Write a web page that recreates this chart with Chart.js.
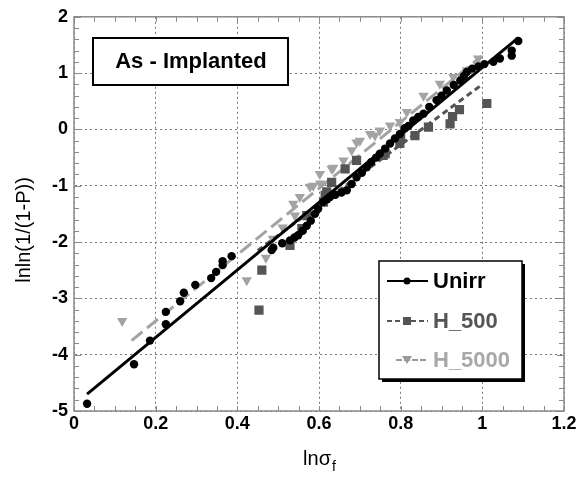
<!DOCTYPE html>
<html>
<head>
<meta charset="utf-8">
<script src="https://cdn.jsdelivr.net/npm/chart.js@4.4.1/dist/chart.umd.min.js"></script>
<style>
html,body{margin:0;padding:0;background:#fff;}
#wrap{position:relative;width:580px;height:478px;}
</style>
</head>
<body>
<div id="wrap"><canvas id="c" width="580" height="478"></canvas></div>
<script>
// ---- data ----
const unirrX = [0.032,0.147,0.186,0.225,0.225,0.260,0.269,0.297,0.336,0.348,0.364,0.364,0.386,0.484,0.488,0.510,0.529,0.540,0.549,0.560,0.570,0.580,0.590,0.598,0.610,0.620,0.627,0.640,0.655,0.668,0.680,0.692,0.705,0.717,0.728,0.740,0.749,0.762,0.774,0.786,0.798,0.810,0.819,0.831,0.843,0.856,0.870,0.888,0.900,0.913,0.930,0.946,0.955,0.962,0.975,0.990,1.005,1.027,1.043,1.072,1.072,1.088];
const unirrY = [-4.87,-4.17,-3.75,-3.46,-3.24,-3.05,-2.90,-2.76,-2.64,-2.53,-2.41,-2.34,-2.25,-2.14,-2.10,-2.02,-1.97,-1.92,-1.88,-1.80,-1.71,-1.62,-1.50,-1.41,-1.29,-1.24,-1.20,-1.16,-1.12,-1.08,-0.97,-0.85,-0.77,-0.67,-0.58,-0.50,-0.43,-0.34,-0.25,-0.16,-0.08,0.02,0.06,0.16,0.22,0.28,0.40,0.52,0.60,0.69,0.79,0.87,0.95,1.02,1.08,1.12,1.16,1.20,1.26,1.31,1.40,1.57];
const h500X = [0.453,0.460,0.529,0.558,0.570,0.611,0.615,0.619,0.631,0.664,0.692,0.757,0.762,0.798,0.800,0.835,0.868,0.921,0.927,0.944,1.011];
const h500Y = [-3.21,-2.50,-2.06,-1.76,-1.53,-1.29,-1.17,-1.11,-0.94,-0.70,-0.55,-0.46,-0.43,-0.25,-0.14,-0.11,0.04,0.10,0.23,0.35,0.46];
const h5000X = [0.118,0.423,0.470,0.487,0.511,0.537,0.541,0.553,0.578,0.586,0.602,0.603,0.631,0.635,0.660,0.680,0.692,0.700,0.725,0.737,0.749,0.774,0.798,0.815,0.856,0.896,0.929,0.962,0.990];
const h5000Y = [-3.40,-2.68,-2.28,-1.94,-1.74,-1.32,-1.53,-1.20,-1.02,-1.00,-0.79,-0.96,-0.70,-0.68,-0.55,-0.37,-0.23,-0.20,-0.08,-0.11,-0.02,0.07,0.13,0.31,0.60,0.81,0.93,1.05,1.26];
// fitted lines (end points)
const unirrFitX = [0.032,1.087];
const unirrFitY = [-4.70,1.62];
const h500FitX = [0.45,1.0];
const h500FitY = [-2.15,0.80];
const h5000FitX = [0.141,0.998];
const h5000FitY = [-3.75,1.30];
// axis ticks
const xTicks = [0,0.2,0.4,0.6,0.8,1,1.2];
const yTicks = [-5,-4,-3,-2,-1,0,1,2];
const seriesNames = ['Unirr','H_500','H_5000'];
const panelTitle = 'As - Implanted';
const xTitleMain = 'lnσ';
const xTitleSub = 'f';
const yTitle = 'lnln(1/(1-P))';

const pts = (xs, ys) => xs.map((x, i) => ({x: x, y: ys[i]}));
const C_UN = '#000000', C_500 = '#555555', C_5000 = '#a3a3a3';

const overlay = {
  id: 'overlay',
  beforeDatasetsDraw(chart) {
    const ctx = chart.ctx, a = chart.chartArea;
    const xs = chart.scales.x, ys = chart.scales.y;
    ctx.save();
    ctx.strokeStyle = '#8a8a8a';
    ctx.lineWidth = 1;
    // minor ticks inward
    for (let v = -5; v <= 2.0001; v += 0.2) {
      const py = Math.round(ys.getPixelForValue(v)) + 0.5;
      const isMaj = Math.abs(v - Math.round(v)) < 1e-6;
      const L = isMaj ? 7 : 5;
      ctx.beginPath();
      ctx.moveTo(a.left, py); ctx.lineTo(a.left + L, py);
      ctx.moveTo(a.right, py); ctx.lineTo(a.right - L, py);
      ctx.stroke();
    }
    for (let v = 0; v <= 1.2001; v += 0.05) {
      const px = Math.round(xs.getPixelForValue(v)) + 0.5;
      ctx.beginPath();
      ctx.moveTo(px, a.bottom); ctx.lineTo(px, a.bottom - 5);
      ctx.moveTo(px, a.top); ctx.lineTo(px, a.top + 5);
      ctx.stroke();
    }
    ctx.lineWidth = 1.5;
    ctx.strokeStyle = '#8a8a8a';
    ctx.strokeRect(a.left, a.top, a.right - a.left, a.bottom - a.top);
    ctx.restore();
  },
  afterDraw(chart) {
    const ctx = chart.ctx, a = chart.chartArea;
    ctx.save();
    // axis titles
    ctx.fillStyle = '#000';
    ctx.font = '20px "Liberation Sans", Arial, sans-serif';
    ctx.textBaseline = 'alphabetic';
    const mainW = ctx.measureText(xTitleMain).width;
    ctx.font = '14px "Liberation Sans", Arial, sans-serif';
    const subW = ctx.measureText(xTitleSub).width;
    const cx = (a.left + a.right) / 2;
    let sx = cx - (mainW + subW) / 2;
    ctx.font = '20px "Liberation Sans", Arial, sans-serif';
    ctx.textAlign = 'left';
    ctx.fillText(xTitleMain, sx, 465);
    ctx.font = '14px "Liberation Sans", Arial, sans-serif';
    ctx.fillText(xTitleSub, sx + mainW + 1, 471);
    ctx.save();
    ctx.translate(30, 230);
    ctx.rotate(-Math.PI / 2);
    ctx.font = '20px "Liberation Sans", Arial, sans-serif';
    ctx.textAlign = 'center';
    ctx.fillText(yTitle, 0, 0);
    ctx.restore();

    // panel title box
    ctx.fillStyle = '#fff';
    ctx.fillRect(93, 38, 195, 47);
    ctx.strokeStyle = '#000';
    ctx.lineWidth = 2;
    ctx.strokeRect(93, 38, 195, 47);
    ctx.fillStyle = '#000';
    ctx.font = 'bold 22px "Liberation Sans", Arial, sans-serif';
    ctx.textAlign = 'center';
    ctx.textBaseline = 'middle';
    ctx.fillText(panelTitle, 191, 62);

    // legend box with shadow
    const L = 379, T = 261, W = 143, H = 118;
    ctx.fillStyle = '#000';
    ctx.fillRect(L + 3, T + 3, W, H);
    ctx.fillStyle = '#fff';
    ctx.fillRect(L, T, W, H);
    ctx.strokeStyle = '#000';
    ctx.lineWidth = 1.5;
    ctx.strokeRect(L, T, W, H);
    const rows = [
      {name: seriesNames[0], color: C_UN, dash: [], y: 281, shape: 'circle'},
      {name: seriesNames[1], color: C_500, dash: [5, 3], y: 321, shape: 'rect'},
      {name: seriesNames[2], color: '#9a9a9a', dash: [6, 2], y: 360, shape: 'tri'}
    ];
    rows.forEach(r => {
      ctx.strokeStyle = r.color;
      ctx.lineWidth = 2;
      ctx.setLineDash(r.dash);
      ctx.beginPath();
      ctx.moveTo(r.shape === 'tri' ? 396 : 387, r.y);
      ctx.lineTo(428, r.y);
      ctx.stroke();
      ctx.setLineDash([]);
      ctx.fillStyle = r.color;
      const mx = 407;
      if (r.shape === 'circle') {
        ctx.beginPath(); ctx.arc(mx, r.y, 3.5, 0, Math.PI * 2); ctx.fill();
      } else if (r.shape === 'rect') {
        ctx.fillRect(mx - 4, r.y - 4, 8, 8);
      } else {
        ctx.beginPath();
        ctx.moveTo(mx - 5, r.y - 4); ctx.lineTo(mx + 5, r.y - 4); ctx.lineTo(mx, r.y + 4);
        ctx.closePath(); ctx.fill();
      }
      ctx.font = 'bold 22px "Liberation Sans", Arial, sans-serif';
      ctx.textAlign = 'left';
      ctx.textBaseline = 'middle';
      ctx.fillStyle = r.color === C_UN ? '#000' : (r.shape === 'rect' ? '#555' : '#a8a8a8');
      ctx.fillText(r.name, 433, r.y + 1);
    });
    ctx.restore();
  }
};

const tickFont = {family: '"Liberation Sans", Arial, sans-serif', size: 18, weight: 'bold'};

new Chart(document.getElementById('c'), {
  type: 'scatter',
  data: {
    datasets: [
      {label: seriesNames[2] + ' fit', data: pts(h5000FitX, h5000FitY), showLine: true, borderColor: C_5000, borderWidth: 3, borderDash: [14, 6], pointRadius: 0, order: 6},
      {label: seriesNames[2], data: pts(h5000X, h5000Y), pointStyle: 'triangle', rotation: 180, pointRadius: 6, backgroundColor: C_5000, borderColor: C_5000, borderWidth: 0, order: 5},
      {label: seriesNames[1] + ' fit', data: pts(h500FitX, h500FitY), showLine: true, borderColor: C_500, borderWidth: 3, borderDash: [6, 4], pointRadius: 0, order: 4},
      {label: seriesNames[1], data: pts(h500X, h500Y), pointStyle: 'rect', pointRadius: 6.5, backgroundColor: C_500, borderColor: C_500, borderWidth: 0, order: 3},
      {label: seriesNames[0] + ' fit', data: pts(unirrFitX, unirrFitY), showLine: true, borderColor: C_UN, borderWidth: 3, pointRadius: 0, order: 2},
      {label: seriesNames[0], data: pts(unirrX, unirrY), pointStyle: 'circle', pointRadius: 4.2, backgroundColor: C_UN, borderColor: C_UN, borderWidth: 0, order: 1}
    ]
  },
  options: {
    responsive: false,
    animation: false,
    layout: {padding: {left: 0, right: 16, top: 16, bottom: 0}},
    plugins: {legend: {display: false}, tooltip: {enabled: false}},
    scales: {
      x: {
        type: 'linear', min: 0, max: 1.2,
        afterFit: s => { s.height = 67; },
        afterBuildTicks: s => { s.ticks = xTicks.map(v => ({value: v})); },
        ticks: {color: '#000', font: tickFont, padding: 2, callback: v => String(+(+v).toFixed(1))},
        grid: {color: '#777777', lineWidth: 1, drawTicks: false},
        border: {display: true, color: 'rgba(0,0,0,0)', dash: [2, 3]},
      },
      y: {
        type: 'linear', min: -5, max: 2,
        afterFit: s => { s.width = 74; },
        afterBuildTicks: s => { s.ticks = yTicks.map(v => ({value: v})); },
        ticks: {color: '#000', font: tickFont, padding: 6, callback: v => String(v)},
        grid: {color: '#777777', lineWidth: 1, drawTicks: false},
        border: {display: true, color: 'rgba(0,0,0,0)', dash: [2, 3]},
      }
    }
  },
  plugins: [overlay]
});
</script>
</body>
</html>
